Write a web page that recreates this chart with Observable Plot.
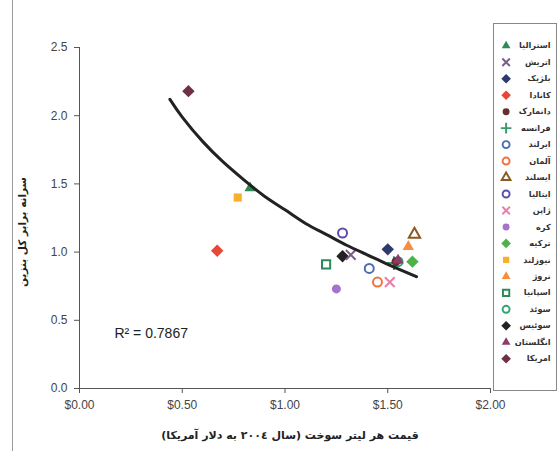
<!DOCTYPE html>
<html><head><meta charset="utf-8">
<script src="https://cdn.jsdelivr.net/npm/d3@7"></script>
<script src="https://cdn.jsdelivr.net/npm/@observablehq/plot@0.6"></script>
<style>
body{margin:0;background:#fff;}
#wrap{position:relative;width:560px;height:451px;overflow:hidden;background:#fff;font-family:"Liberation Sans",Arial,sans-serif;}
#frameline{position:absolute;left:12px;top:0;width:0;height:451px;border-left:1px solid #999;}
#main{position:absolute;left:0;top:0;}
#legend{position:absolute;left:493px;top:23px;width:64px;height:368px;border:1px solid #888;box-sizing:border-box;background:#fff;}
#legend svg{position:absolute;left:0;top:0;}
#xtitle{position:absolute;left:130px;width:320px;top:429px;text-align:center;font-size:11px;font-weight:bold;color:#222;font-family:"DejaVu Sans",sans-serif;}
#ytitle{position:absolute;left:22px;top:232px;transform:translate(-50%,-50%) rotate(-90deg);white-space:nowrap;font-size:10.5px;font-weight:bold;color:#222;font-family:"DejaVu Sans",sans-serif;}
</style></head>
<body>
<div id="wrap">
  <div id="frameline"></div>
  <div id="main"></div>
  <div id="legend"></div>
  <div id="xtitle" dir="rtl">قیمت هر لیتر سوخت (سال ٢٠٠٤ به دلار آمریکا)</div>
  <div id="ytitle" dir="rtl">سرانه برابر کل بنزین</div>
</div>
<script>
// Series (one point per country)
const countries = ["استرالیا","اتریش","بلژیک","کانادا","دانمارک","فرانسه","ایرلند","آلمان","ایسلند","ایتالیا","ژاپن","کره","ترکیه","نیوزلند","نروژ","اسپانیا","سوئد","سوئیس","انگلستان","امریکا"];
const symbols   = ["triangle","times","diamond2","diamond2","circle","plus","circle","circle","triangle","circle","times","circle","diamond2","square","triangle","square","circle","diamond2","triangle","diamond2"];
const colors    = ["#2f8a55","#7b5d8c","#2c3a6e","#ea4638","#6a2d2d","#3a9a68","#4d6cb3","#f2703e","#8a5a22","#5b4fae","#ec7cab","#a473cb","#4fb248","#f7b02e","#f78e3f","#2a8a5c","#31a272","#222222","#8c3a6a","#6e3042"];
const filled    = [true,false,true,true,true,false,false,false,false,false,false,true,true,true,true,false,false,true,true,true];
const fuelPrice = [0.83,1.32,1.50,0.67,1.54,1.53,1.41,1.45,1.63,1.28,1.51,1.25,1.62,0.77,1.60,1.20,1.55,1.28,1.55,0.53];
const perCapita = [1.47,0.98,1.02,1.01,0.93,0.92,0.88,0.78,1.13,1.14,0.78,0.73,0.93,1.40,1.04,0.91,0.93,0.97,0.94,2.18];
// drawing order (series hidden under others first)
const drawOrder = [5,16,18,4,0,1,2,3,6,7,8,9,10,11,12,13,14,15,17,19];

// Trend line (logarithmic fit)
const trendX = [0.44,0.50,0.60,0.70,0.80,0.90,1.00,1.10,1.20,1.30,1.40,1.50,1.64];
const trendY = [2.12,1.99,1.81,1.66,1.53,1.41,1.31,1.21,1.13,1.05,0.98,0.91,0.82];

// Axis ticks
const xTicks = [0,0.5,1,1.5,2];
const yTicks = [0,0.5,1,1.5,2,2.5];

// Annotation
const rsqNote = [{x:0.17, y:0.40, label:"R² = 0.7867"}];

const markerR = s => s === "diamond2" ? 5.6 : s === "square" ? 4.6 : s === "triangle" ? 4.2 : 4.5;

const pts = drawOrder.map(i => ({
  name: countries[i], x: fuelPrice[i], y: perCapita[i], symbol: symbols[i],
  fill: filled[i] ? colors[i] : "none",
  stroke: filled[i] ? "none" : colors[i]
}));
const trend = trendX.map((x,i)=>({x, y: trendY[i]}));

const main = Plot.plot({
  width: 520, height: 451,
  marginLeft: 79, marginRight: 30, marginTop: 47, marginBottom: 63,
  x: {domain:[0,2]},
  y: {domain:[0,2.5]},
  r: {type:"identity"},
  color: {type:"identity"},
  symbol: {type:"identity"},
  style: {fontFamily:"'Liberation Sans',Arial,sans-serif", fontSize:"12px", color:"#444", background:"transparent"},
  marks: [
    Plot.axisX({ticks:xTicks, tickFormat:d3.format("$.2f"), tickSize:5, tickPadding:7, label:null, stroke:"#555", fill:"#444"}),
    Plot.axisY({ticks:yTicks, tickFormat:d3.format(".1f"), tickSize:5, tickPadding:7, label:null, stroke:"#555", fill:"#444"}),
    Plot.ruleX([0], {stroke:"#555"}),
    Plot.ruleY([0], {stroke:"#555"}),
    Plot.dot(pts, {x:"x", y:"y", symbol:"symbol", fill:"fill", stroke:"stroke", strokeWidth:2, r: d => markerR(d.symbol)}),
    Plot.line(trend, {x:"x", y:"y", curve:"natural", stroke:"#222", strokeWidth:3}),
    Plot.text(rsqNote, {x:"x", y:"y", text:"label", textAnchor:"start", fontSize:14, fill:"#222"})
  ]
});
document.getElementById("main").appendChild(main);

const leg = countries.map((name,i)=>({
  name, symbol: symbols[i],
  fill: filled[i] ? colors[i] : "none",
  stroke: filled[i] ? "none" : colors[i]
}));
const legend = Plot.plot({
  width: 64, height: 368,
  margin: 0,
  x: {domain:[0,64], range:[0,64]},
  y: {type:"point", domain:countries, range:[12,354]},
  r: {type:"identity"},
  color: {type:"identity"},
  symbol: {type:"identity"},
  axis: null,
  style: {fontFamily:"'DejaVu Sans',sans-serif", background:"transparent"},
  marks: [
    Plot.dot(leg, {x:()=>12, y:"name", symbol:"symbol", fill:"fill", stroke:"stroke", strokeWidth:2, r: d => markerR(d.symbol) * 0.8}),
    Plot.text(leg, {x:()=>58, y:"name", text:"name", textAnchor:"end", fontSize:8.5, fontWeight:"bold", fill:"#333"})
  ]
});
document.getElementById("legend").appendChild(legend);
</script>
</body></html>
